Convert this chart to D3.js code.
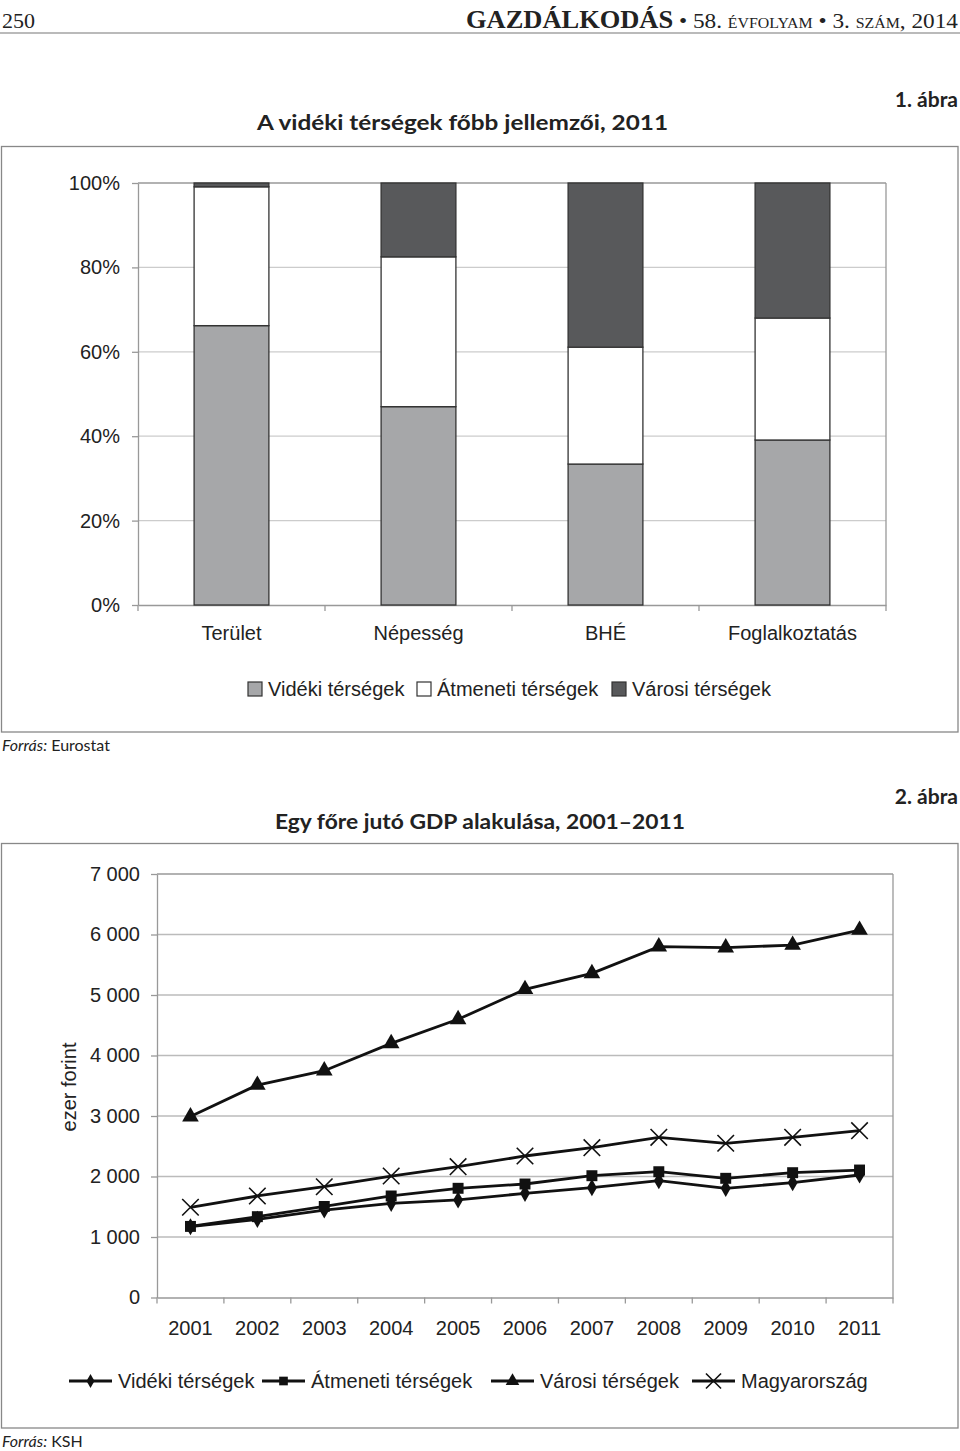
<!DOCTYPE html>
<html><head><meta charset="utf-8">
<script src="https://cdn.jsdelivr.net/npm/d3@7"></script>
<style>
body{margin:0;background:#fff;}
svg{display:block;}
</style></head>
<body>
<script>
// ---- Chart 1 data ----
const categories = ["Terület", "Népesség", "BHÉ", "Foglalkoztatás"];
const seriesNames1 = ["Vidéki térségek", "Átmeneti térségek", "Városi térségek"];
const videki1 = [66.2, 47.0, 33.4, 39.1];
const atmeneti1 = [32.9, 35.5, 27.7, 28.9];
const varosi1 = [0.9, 17.5, 38.9, 32.0];
const pctTicks = [0, 20, 40, 60, 80, 100];

// ---- Chart 2 data ----
const years = ["2001","2002","2003","2004","2005","2006","2007","2008","2009","2010","2011"];
const seriesNames2 = ["Vidéki térségek", "Átmeneti térségek", "Városi térségek", "Magyarország"];
const videki2 = [1170, 1292, 1446, 1557, 1612, 1722, 1815, 1931, 1805, 1898, 2025];
const atmeneti2 = [1175, 1336, 1505, 1678, 1805, 1876, 2013, 2079, 1970, 2063, 2107];
const varosi2 = [2990, 3512, 3749, 4201, 4598, 5094, 5358, 5798, 5782, 5826, 6074];
const magyar2 = [1491, 1678, 1831, 2008, 2162, 2339, 2476, 2648, 2549, 2648, 2757];
const gdpTicks = [0, 1000, 2000, 3000, 4000, 5000, 6000, 7000];

const W = 960, H = 1451;
const svg = d3.select("body").append("svg").attr("width", W).attr("height", H);
const sans = "'Liberation Sans', Arial, sans-serif";
const title = "Lato, 'Open Sans', sans-serif";
const serif = "'Liberation Serif', 'DejaVu Serif', serif";

// ---- Page header ----
svg.append("text").attr("x", 2).attr("y", 28).attr("font-family", serif).attr("font-size", 22).attr("fill", "#222").text("250");
const hdr = svg.append("text").attr("x", 958).attr("y", 28).attr("text-anchor", "end")
  .attr("font-family", serif).attr("fill", "#222").attr("textLength", 492).attr("lengthAdjust", "spacingAndGlyphs");
hdr.append("tspan").attr("font-size", 25).attr("font-weight", "bold").text("GAZDÁLKODÁS");
hdr.append("tspan").attr("font-size", 22).text(" • 58. ");
hdr.append("tspan").attr("font-size", 15).text("ÉVFOLYAM");
hdr.append("tspan").attr("font-size", 22).text(" • 3. ");
hdr.append("tspan").attr("font-size", 15).text("SZÁM");
hdr.append("tspan").attr("font-size", 22).text(", 2014");
svg.append("line").attr("x1", 0).attr("x2", 960).attr("y1", 33).attr("y2", 33).attr("stroke", "#777").attr("stroke-width", 1.2);

// ---- Chart 1 titles ----
svg.append("text").attr("x", 958).attr("y", 107).attr("text-anchor", "end").attr("font-family", title)
  .attr("font-weight", "bold").attr("font-size", 21).attr("fill", "#222").text("1. ábra");
svg.append("text").attr("x", 257).attr("y", 130).attr("font-family", title)
  .attr("font-weight", "bold").attr("font-size", 21).attr("fill", "#222")
  .attr("textLength", 411).attr("lengthAdjust", "spacingAndGlyphs").text("A vidéki térségek főbb jellemzői, 2011");

// frame 1
svg.append("rect").attr("x", 1.5).attr("y", 146.5).attr("width", 956.5).attr("height", 585.5)
  .attr("fill", "none").attr("stroke", "#888").attr("stroke-width", 1.3);

const x1 = d3.scaleBand().domain(categories).range([138, 886]).paddingInner(0.6).paddingOuter(0.3);
const y1 = d3.scaleLinear().domain([0, 100]).range([605, 183]);
const g1 = svg.append("g");

g1.selectAll(".grid").data(pctTicks.filter(d => d > 0)).enter().append("line")
  .attr("x1", 138).attr("x2", 886).attr("y1", d => y1(d)).attr("y2", d => y1(d))
  .attr("stroke", d => d === 100 ? "#999" : "#ccc").attr("stroke-width", 1.3);
g1.append("line").attr("x1", 886).attr("x2", 886).attr("y1", 183).attr("y2", 605).attr("stroke", "#999").attr("stroke-width", 1.3);

const ay1 = g1.append("g").attr("transform", "translate(138,0)")
  .call(d3.axisLeft(y1).tickValues(pctTicks).tickSize(6).tickSizeOuter(0).tickPadding(12).tickFormat(d => d + "%"));
ay1.select(".domain").attr("stroke", "#999").attr("stroke-width", 1.3);
ay1.selectAll(".tick line").attr("stroke", "#999").attr("stroke-width", 1.3);
ay1.selectAll(".tick text").attr("font-family", sans).attr("font-size", 20).attr("fill", "#222");

const ax1 = g1.append("g").attr("transform", "translate(0,605)")
  .call(d3.axisBottom(x1).tickSize(0).tickPadding(21));
ax1.select(".domain").attr("stroke", "#999").attr("stroke-width", 1.3);
ax1.selectAll(".tick text").attr("font-family", sans).attr("font-size", 20).attr("fill", "#222");
const step1 = x1.step();
const bounds1 = d3.range(categories.length + 1).map(i => 138 + i * step1);
g1.selectAll(".xt").data(bounds1).enter().append("line")
  .attr("x1", d => d).attr("x2", d => d).attr("y1", 605).attr("y2", 611).attr("stroke", "#999").attr("stroke-width", 1.3);

const rows1 = categories.map((c, i) => ({cat: c, v: videki1[i], a: atmeneti1[i], u: varosi1[i]}));
const stack1 = d3.stack().keys(["v", "a", "u"])(rows1);
const fills1 = ["#a6a7a9", "#ffffff", "#58595b"];
stack1.forEach((layer, li) => {
  g1.selectAll(".bar" + li).data(layer).enter().append("rect")
    .attr("x", d => x1(d.data.cat)).attr("width", x1.bandwidth())
    .attr("y", d => y1(d[1])).attr("height", d => y1(d[0]) - y1(d[1]))
    .attr("fill", fills1[li]).attr("stroke", "#333").attr("stroke-width", 1.3);
});

const leg1x = [248, 417, 612];
seriesNames1.forEach((n, i) => {
  svg.append("rect").attr("x", leg1x[i]).attr("y", 682).attr("width", 14).attr("height", 14)
    .attr("fill", fills1[i]).attr("stroke", "#333").attr("stroke-width", 1.2);
  svg.append("text").attr("x", leg1x[i] + 20).attr("y", 696).attr("font-family", sans).attr("font-size", 20)
    .attr("fill", "#222").text(n);
});

const s1 = svg.append("text").attr("x", 2).attr("y", 751).attr("font-family", title).attr("font-size", 16).attr("fill", "#222");
s1.append("tspan").attr("font-style", "italic").text("Forrás:");
s1.append("tspan").text(" Eurostat");

// ---- Chart 2 ----
svg.append("text").attr("x", 958).attr("y", 804).attr("text-anchor", "end").attr("font-family", title)
  .attr("font-weight", "bold").attr("font-size", 21).attr("fill", "#222").text("2. ábra");
svg.append("text").attr("x", 275).attr("y", 829).attr("font-family", title)
  .attr("font-weight", "bold").attr("font-size", 21).attr("fill", "#222")
  .attr("textLength", 410).attr("lengthAdjust", "spacingAndGlyphs").text("Egy főre jutó GDP alakulása, 2001–2011");

svg.append("rect").attr("x", 1.5).attr("y", 843.5).attr("width", 956.5).attr("height", 584.5)
  .attr("fill", "none").attr("stroke", "#888").attr("stroke-width", 1.3);

const x2 = d3.scaleBand().domain(years).range([157, 893]);
const y2 = d3.scaleLinear().domain([0, 7000]).range([1297.5, 874]);
const g2 = svg.append("g");

g2.selectAll(".grid2").data(gdpTicks.filter(d => d > 0)).enter().append("line")
  .attr("x1", 157).attr("x2", 893).attr("y1", d => y2(d)).attr("y2", d => y2(d))
  .attr("stroke", d => d === 7000 ? "#999" : "#bbb").attr("stroke-width", 1.3);
g2.append("line").attr("x1", 893).attr("x2", 893).attr("y1", 874).attr("y2", 1297.5).attr("stroke", "#999").attr("stroke-width", 1.3);

const ay2 = g2.append("g").attr("transform", "translate(157,0)")
  .call(d3.axisLeft(y2).tickValues(gdpTicks).tickSize(6).tickSizeOuter(0).tickPadding(11)
    .tickFormat(d => d3.format(",")(d).replace(",", " ")));
ay2.select(".domain").attr("stroke", "#999").attr("stroke-width", 1.3);
ay2.selectAll(".tick line").attr("stroke", "#999").attr("stroke-width", 1.3);
ay2.selectAll(".tick text").attr("font-family", sans).attr("font-size", 20).attr("fill", "#222");

const ax2 = g2.append("g").attr("transform", "translate(0,1297.5)")
  .call(d3.axisBottom(x2).tickSize(0).tickPadding(23));
ax2.select(".domain").attr("stroke", "#999").attr("stroke-width", 1.3);
ax2.selectAll(".tick text").attr("font-family", sans).attr("font-size", 20).attr("fill", "#222");
const bounds2 = d3.range(years.length + 1).map(i => 157 + i * x2.step());
g2.selectAll(".xt2").data(bounds2).enter().append("line")
  .attr("x1", d => d).attr("x2", d => d).attr("y1", 1297.5).attr("y2", 1303.5).attr("stroke", "#999").attr("stroke-width", 1.3);

svg.append("text").attr("transform", "translate(76,1087) rotate(-90)").attr("text-anchor", "middle")
  .attr("font-family", sans).attr("font-size", 20).attr("fill", "#222").text("ezer forint");

const series2 = [
  {name: seriesNames2[0], vals: videki2, sym: d3.symbolDiamond, size: 85, lsize: 55, stroke: false},
  {name: seriesNames2[1], vals: atmeneti2, sym: d3.symbolSquare, size: 120, lsize: 75, stroke: false},
  {name: seriesNames2[2], vals: varosi2, sym: d3.symbolTriangle, size: 120, lsize: 80, stroke: false},
  {name: seriesNames2[3], vals: magyar2, sym: d3.symbolTimes, size: 180, lsize: 150, stroke: true}
];
const line2 = d3.line().x((d, i) => x2(years[i]) + x2.bandwidth() / 2).y(d => y2(d));

function drawSym(g, s, cx, cy, size) {
  const p = g.append("path").attr("d", d3.symbol().type(s.sym).size(size)()).attr("transform", `translate(${cx},${cy})`);
  if (s.stroke) p.attr("fill", "none").attr("stroke", "#111").attr("stroke-width", 1.6);
  else p.attr("fill", "#111");
}

series2.forEach(s => {
  g2.append("path").datum(s.vals).attr("d", line2).attr("fill", "none").attr("stroke", "#111").attr("stroke-width", 2.8);
});
series2.forEach(s => {
  s.vals.forEach((v, i) => drawSym(g2, s, x2(years[i]) + x2.bandwidth() / 2, y2(v), s.size));
});

const leg2x = [69, 262, 491, 692];
series2.forEach((s, i) => {
  const lx = leg2x[i];
  svg.append("line").attr("x1", lx).attr("x2", lx + 43).attr("y1", 1381).attr("y2", 1381).attr("stroke", "#111").attr("stroke-width", 2.8);
  drawSym(svg, s, lx + 21.5, 1381, s.lsize);
  svg.append("text").attr("x", lx + 49).attr("y", 1388).attr("font-family", sans).attr("font-size", 20)
    .attr("fill", "#222").text(s.name);
});

const s2 = svg.append("text").attr("x", 2).attr("y", 1447).attr("font-family", title).attr("font-size", 16).attr("fill", "#222");
s2.append("tspan").attr("font-style", "italic").text("Forrás:");
s2.append("tspan").text(" KSH");
</script>
</body></html>
